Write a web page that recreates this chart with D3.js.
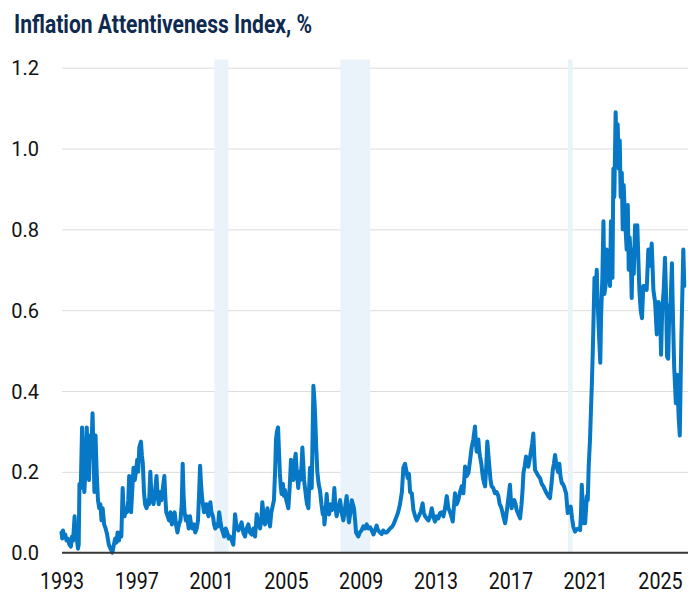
<!DOCTYPE html>
<html>
<head>
<meta charset="utf-8">
<script src="https://d3js.org/d3.v7.min.js"></script>
<style>
  body { margin: 0; background: #fff; }
  svg { display: block; font-family: Roboto, "Liberation Sans", sans-serif; }
</style>
</head>
<body>
<svg id="chart"></svg>
<script>
// Canvas size
const width = 699;
const height = 595;

// Axis ticks and shaded recession periods (fractional years)
const yearTicks = [1993, 1997, 2001, 2005, 2009, 2013, 2017, 2021, 2025];
const valueTicks = [0, 0.2, 0.4, 0.6, 0.8, 1.0, 1.2];
const recessions = [[2001.17, 2001.92], [2007.92, 2009.5], [2020.08, 2020.33]];

// Index values as [year, value]
const index1993 = [
  [1993.00,0.05],[1993.04,0.035],[1993.08,0.055],[1993.14,0.04],[1993.2,0.045],[1993.27,0.03],
  [1993.34,0.035],[1993.42,0.02],[1993.5,0.015],[1993.56,0.04],[1993.62,0.03],[1993.7,0.09],
  [1993.75,0.05],[1993.81,0.04],[1993.88,0.01],[1993.92,0.02],[1993.96,0.17],[1994.03,0.16],
  [1994.1,0.31],[1994.16,0.2],[1994.22,0.15],[1994.28,0.2],[1994.35,0.31],[1994.41,0.22],
  [1994.47,0.18],[1994.53,0.29],[1994.59,0.24],[1994.66,0.345],[1994.71,0.25],[1994.76,0.15],
  [1994.82,0.29],[1994.88,0.2],[1994.95,0.13],[1995.02,0.11],[1995.08,0.12],[1995.14,0.08],
  [1995.2,0.11],[1995.28,0.07],[1995.36,0.06],[1995.44,0.045],[1995.53,0.02],[1995.62,0.01],
  [1995.72,0.0],[1995.8,0.02],[1995.87,0.035],[1995.94,0.025],[1996.0,0.05],[1996.07,0.03],
  [1996.14,0.05]
];
const index1996 = [
  [1996.2,0.04],[1996.27,0.16],[1996.32,0.1],[1996.37,0.09],[1996.44,0.11],[1996.5,0.1],
  [1996.57,0.13],[1996.62,0.19],[1996.67,0.12],[1996.72,0.1],[1996.79,0.16],[1996.85,0.21],
  [1996.92,0.18],[1996.98,0.2],[1997.05,0.23],[1997.1,0.2],[1997.16,0.26],[1997.25,0.275],
  [1997.3,0.24],[1997.35,0.22],[1997.41,0.15],[1997.47,0.12],[1997.55,0.11],[1997.62,0.13],
  [1997.68,0.12],[1997.75,0.2],[1997.8,0.15],[1997.85,0.13],[1997.92,0.12],[1998.0,0.15],
  [1998.08,0.19],[1998.14,0.14],[1998.2,0.12],[1998.27,0.15],[1998.34,0.13],[1998.42,0.16],
  [1998.5,0.19],[1998.55,0.14],[1998.6,0.1],[1998.68,0.09],[1998.75,0.08],[1998.82,0.1],
  [1998.9,0.07],[1998.97,0.09],[1999.05,0.1],[1999.12,0.07],[1999.2,0.05],[1999.28,0.07],
  [1999.36,0.08],[1999.43,0.12],[1999.48,0.22],[1999.53,0.14],[1999.58,0.1],[1999.65,0.08],
  [1999.72,0.09],[1999.8,0.06],[1999.87,0.09],[1999.93,0.07],[2000.0,0.06],[2000.08,0.07],
  [2000.15,0.05],[2000.23,0.06],[2000.3,0.08],[2000.36,0.15],[2000.41,0.215],[2000.46,0.17],
  [2000.51,0.14],[2000.56,0.12],[2000.62,0.1],[2000.68,0.11],[2000.75,0.12],[2000.8,0.1],
  [2000.86,0.09],[2000.91,0.11],[2000.96,0.125],[2001.02,0.1],[2001.1,0.09],[2001.16,0.07],
  [2001.22,0.06],[2001.3,0.07],[2001.37,0.065],[2001.43,0.1],[2001.49,0.08],[2001.56,0.06],
  [2001.63,0.05],[2001.7,0.04],[2001.78,0.06],[2001.86,0.05],[2001.94,0.035]
];
const index2002 = [
  [2002.01,0.04],[2002.1,0.03],[2002.19,0.02],[2002.28,0.095],[2002.36,0.065],[2002.46,0.055],
  [2002.55,0.065],[2002.63,0.075],[2002.72,0.05],[2002.81,0.04],[2002.9,0.06],[2002.99,0.07],
  [2003.08,0.05],[2003.17,0.045],[2003.26,0.06],[2003.35,0.04],[2003.44,0.095],[2003.53,0.07],
  [2003.62,0.06],[2003.68,0.08],[2003.74,0.125],[2003.81,0.09],[2003.88,0.07],[2003.95,0.09],
  [2004.01,0.11],[2004.08,0.08],[2004.15,0.065],[2004.22,0.1],[2004.29,0.115],[2004.36,0.13],
  [2004.42,0.2],[2004.47,0.28],[2004.52,0.3],[2004.58,0.31],[2004.63,0.25],[2004.68,0.195],
  [2004.73,0.16],[2004.77,0.145],[2004.84,0.17],[2004.9,0.14],[2004.95,0.155],[2005.02,0.13],
  [2005.08,0.12],[2005.13,0.11],[2005.2,0.16],[2005.27,0.23],[2005.33,0.2],[2005.4,0.18],
  [2005.46,0.22],[2005.52,0.245],[2005.58,0.2],[2005.66,0.16],[2005.72,0.2],[2005.78,0.18],
  [2005.84,0.22],[2005.88,0.26],[2005.93,0.22],[2005.97,0.18],[2006.02,0.16],[2006.07,0.14],
  [2006.13,0.12],[2006.2,0.11],[2006.25,0.17],[2006.29,0.21],[2006.34,0.18],[2006.38,0.16],
  [2006.43,0.3],[2006.47,0.413],[2006.52,0.38],[2006.56,0.343],[2006.62,0.26],[2006.68,0.2],
  [2006.75,0.17],[2006.82,0.155],[2006.9,0.12],[2006.97,0.095],[2007.02,0.11],[2007.06,0.07],
  [2007.12,0.1],[2007.18,0.145],[2007.24,0.1],[2007.31,0.095],[2007.38,0.12],[2007.45,0.105],
  [2007.52,0.11],[2007.59,0.16],[2007.65,0.11],[2007.71,0.09],[2007.8,0.11],[2007.9,0.13],
  [2007.98,0.1],[2008.07,0.08],[2008.16,0.11],[2008.25,0.14],[2008.31,0.1],[2008.37,0.075],
  [2008.45,0.1],[2008.52,0.13],[2008.58,0.12],[2008.64,0.11],[2008.7,0.08],[2008.75,0.05],
  [2008.81,0.045],[2008.87,0.04],[2008.95,0.05],[2009.04,0.055],[2009.14,0.065],[2009.23,0.06],
  [2009.32,0.07],[2009.41,0.06],[2009.5,0.063],[2009.59,0.055],[2009.68,0.045],[2009.76,0.055],
  [2009.85,0.067],[2009.93,0.055],[2010.03,0.05],[2010.12,0.046],[2010.2,0.055],[2010.3,0.05],
  [2010.39,0.05],[2010.48,0.055],[2010.57,0.06],[2010.66,0.063],[2010.75,0.07],[2010.84,0.08],
  [2010.92,0.09],[2011.0,0.1],[2011.1,0.12]
];
const index2011 = [
  [2011.2,0.15],[2011.28,0.21],[2011.37,0.22],[2011.45,0.2],[2011.51,0.185],[2011.58,0.195],
  [2011.64,0.15],[2011.73,0.147],[2011.82,0.105],[2011.91,0.09],[2012.0,0.08],[2012.1,0.09],
  [2012.2,0.1],[2012.31,0.122],[2012.37,0.1],[2012.44,0.09],[2012.53,0.085],[2012.62,0.08],
  [2012.71,0.09],[2012.8,0.11],[2012.88,0.09],[2012.97,0.077],[2013.06,0.09],[2013.15,0.085],
  [2013.24,0.098],[2013.33,0.1],[2013.42,0.09],[2013.51,0.11],[2013.6,0.14],[2013.69,0.11],
  [2013.78,0.1],[2013.85,0.09],[2013.92,0.077],[2014.04,0.147],[2014.13,0.12],[2014.22,0.13],
  [2014.31,0.15],[2014.4,0.164],[2014.49,0.147],[2014.58,0.213],[2014.67,0.19],[2014.76,0.197],
  [2014.85,0.23],[2014.93,0.26],[2015.02,0.28],[2015.11,0.312],[2015.16,0.27],[2015.2,0.25],
  [2015.25,0.265],[2015.29,0.28],[2015.34,0.25],[2015.38,0.238],[2015.45,0.22],[2015.52,0.19],
  [2015.58,0.175],[2015.65,0.164],[2015.71,0.21],[2015.77,0.275],[2015.83,0.24],[2015.88,0.213],
  [2015.94,0.18],[2016.0,0.164],[2016.09,0.16],[2016.18,0.147],[2016.27,0.15],[2016.36,0.14],
  [2016.43,0.12],[2016.5,0.114],[2016.58,0.1],[2016.65,0.085],[2016.72,0.073],[2016.78,0.09],
  [2016.84,0.114],[2016.91,0.14],[2016.98,0.168],[2017.03,0.13],[2017.07,0.11],[2017.14,0.125],
  [2017.21,0.13],[2017.28,0.12],[2017.34,0.105],[2017.43,0.095],[2017.52,0.085],[2017.6,0.12],
  [2017.66,0.16],[2017.7,0.197],[2017.77,0.215],[2017.84,0.238],[2017.9,0.22],[2017.96,0.213],
  [2018.03,0.23],[2018.1,0.25],[2018.17,0.27],[2018.23,0.295],[2018.28,0.24],[2018.32,0.205],
  [2018.41,0.197],[2018.5,0.19],[2018.59,0.184],[2018.68,0.17],[2018.77,0.164],[2018.86,0.155],
  [2018.94,0.147],[2019.03,0.14],[2019.12,0.135],[2019.2,0.17],[2019.27,0.205],[2019.33,0.22],
  [2019.39,0.242],[2019.44,0.225],[2019.48,0.213],[2019.55,0.2],[2019.62,0.22],[2019.68,0.19],
  [2019.75,0.172],[2019.81,0.17],[2019.87,0.164],[2019.93,0.155],[2019.98,0.147],[2020.03,0.12],
  [2020.07,0.098],[2020.15,0.105],[2020.23,0.114],[2020.3,0.085],[2020.37,0.064],[2020.46,0.052],
  [2020.55,0.058],[2020.64,0.06],[2020.73,0.056],[2020.78,0.1],[2020.82,0.168],[2020.87,0.12],
  [2020.91,0.073],[2021.0,0.073],[2021.09,0.14],[2021.14,0.13],[2021.19,0.213],[2021.26,0.28],
  [2021.31,0.35],[2021.36,0.42],[2021.41,0.5],[2021.46,0.6],[2021.5,0.68]
];
const index2021 = [
  [2021.55,0.62],[2021.62,0.7],[2021.67,0.62],[2021.74,0.54],[2021.81,0.47],[2021.85,0.58],
  [2021.92,0.68],[2021.98,0.82],[2022.03,0.64],[2022.09,0.66],[2022.15,0.75],[2022.24,0.7],
  [2022.33,0.66],[2022.38,0.82],[2022.46,0.68],[2022.51,0.95],[2022.56,0.88],[2022.63,1.09],
  [2022.69,0.99],[2022.74,1.06],[2022.8,0.95],[2022.85,1.02],[2022.9,0.88],[2022.96,0.94],
  [2023.01,0.8],[2023.06,0.91],[2023.13,0.83],[2023.22,0.75],[2023.28,0.86],[2023.33,0.7],
  [2023.38,0.78],[2023.44,0.73],[2023.49,0.63],[2023.54,0.75],[2023.6,0.69],[2023.67,0.81],
  [2023.72,0.74],[2023.79,0.81],[2023.85,0.72],[2023.9,0.65],[2023.97,0.6],[2024.04,0.58],
  [2024.11,0.66],[2024.2,0.66],[2024.29,0.65],[2024.38,0.75],[2024.47,0.71],[2024.56,0.765],
  [2024.65,0.65],[2024.74,0.62],[2024.83,0.54],[2024.92,0.62],[2025.0,0.61],[2025.06,0.49],
  [2025.12,0.6],[2025.2,0.65],[2025.27,0.73],[2025.32,0.65],[2025.38,0.485],[2025.44,0.48],
  [2025.5,0.6],[2025.57,0.62],[2025.64,0.716],[2025.7,0.575],[2025.76,0.46],[2025.85,0.37],
  [2025.92,0.44],[2026.0,0.336],[2026.06,0.29],[2026.14,0.52],[2026.25,0.75],[2026.3,0.66]
];

const series = [].concat(index1993, index1996, index2002, index2011, index2021);

const svg = d3.select("#chart")
    .attr("width", width)
    .attr("height", height);

// Scales
const x = d3.scaleLinear().domain([1993, 2026.5]).range([61.5, 688]);
const y = d3.scaleLinear().domain([0, 1.2]).range([552.7, 67.7]);

// Title
svg.append("text")
    .attr("x", 14)
    .attr("y", 33)
    .attr("font-size", 25)
    .attr("font-weight", 700)
    .attr("fill", "#0f2a4f")
    .attr("textLength", 298)
    .attr("lengthAdjust", "spacingAndGlyphs")
    .text("Inflation Attentiveness Index, %");

// Gridlines + y labels
const yAxis = svg.append("g")
    .attr("transform", "translate(62,0)")
    .call(d3.axisLeft(y)
        .tickValues(valueTicks)
        .tickSize(-(688 - 62))
        .tickPadding(23)
        .tickFormat(d3.format(".1f")));
yAxis.select(".domain").remove();
yAxis.selectAll(".tick line").attr("stroke", "#dcdcdc").attr("stroke-width", 1);
yAxis.selectAll(".tick text")
    .attr("font-family", "Roboto, sans-serif")
    .attr("font-size", 20)
    .attr("fill", "#111")
    .attr("dy", 7);

// Recession shading
svg.append("g").selectAll("rect")
    .data(recessions)
    .join("rect")
    .attr("x", d => x(d[0]))
    .attr("width", d => x(d[1]) - x(d[0]))
    .attr("y", 59.5)
    .attr("height", y(0) - 59.5)
    .attr("fill", "#eaf3fa");

// Index line
const line = d3.line()
    .x(d => x(d[0]))
    .y(d => y(d[1]));

svg.append("path")
    .datum(series)
    .attr("fill", "none")
    .attr("stroke", "#0678c5")
    .attr("stroke-width", 4)
    .attr("stroke-linejoin", "round")
    .attr("stroke-linecap", "round")
    .attr("d", line);

// Baseline at zero
svg.append("line")
    .attr("x1", 62).attr("x2", 688)
    .attr("y1", y(0)).attr("y2", y(0))
    .attr("stroke", "#3a3a3a")
    .attr("stroke-width", 2);

// X axis labels
const xAxis = svg.append("g")
    .attr("transform", `translate(0,${y(0)})`)
    .call(d3.axisBottom(x)
        .tickValues(yearTicks)
        .tickSize(0)
        .tickFormat(d3.format("d")));
xAxis.select(".domain").remove();
xAxis.selectAll(".tick text")
    .attr("y", 36.5)
    .attr("dy", 0)
    .attr("font-family", "Roboto, sans-serif")
    .attr("font-size", 24)
    .attr("fill", "#111")
    .attr("transform", "scale(0.82,1)");
</script>
</body>
</html>
